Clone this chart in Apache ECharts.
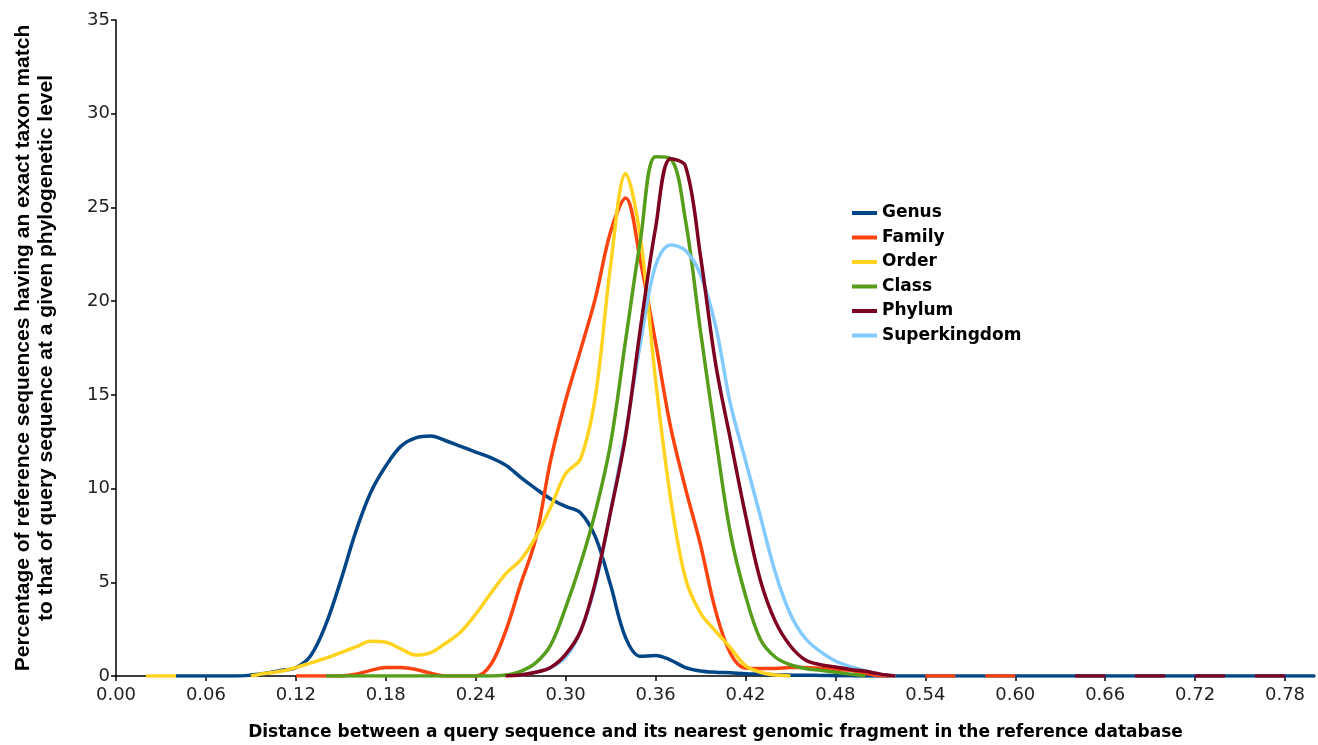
<!DOCTYPE html>
<html>
<head>
<meta charset="utf-8">
<script src="https://cdn.jsdelivr.net/npm/echarts@6/dist/echarts.min.js"></script>
<style>
  html, body { margin: 0; padding: 0; background: #fff; }
  #chart { width: 1318px; height: 745px; }
</style>
</head>
<body>
<div id="chart"></div>
<script>
// distance categories, 0.00 .. 0.80 in steps of 0.01
const distances = [
  '0.00','0.01','0.02','0.03','0.04','0.05','0.06','0.07','0.08','0.09',
  '0.10','0.11','0.12','0.13','0.14','0.15','0.16','0.17','0.18','0.19',
  '0.20','0.21','0.22','0.23','0.24','0.25','0.26','0.27','0.28','0.29',
  '0.30','0.31','0.32','0.33','0.34','0.35','0.36','0.37','0.38','0.39',
  '0.40','0.41','0.42','0.43','0.44','0.45','0.46','0.47','0.48','0.49',
  '0.50','0.51','0.52','0.53','0.54','0.55','0.56','0.57','0.58','0.59',
  '0.60','0.61','0.62','0.63','0.64','0.65','0.66','0.67','0.68','0.69',
  '0.70','0.71','0.72','0.73','0.74','0.75','0.76','0.77','0.78','0.79',
  '0.80'
]

// percentage values, one per distance (null = not drawn)
const genus = [
  null, null, null, null, 0, 0, 0, 0, 0, 0.05,
  0.15, 0.3, 0.45, 1.1, 2.75, 5.1, 7.7, 9.8, 11.2, 12.25,
  12.7, 12.8, 12.55, 12.25, 11.95, 11.65, 11.25, 10.6, 10.0, 9.45,
  9.05, 8.7, 7.4, 4.85, 2.05, 1.05, 1.1, 0.85, 0.45, 0.27,
  0.2, 0.17, 0.12, 0.1, 0.07, 0.05, 0.04, 0.03, 0.02, 0.01,
  0, 0, 0, 0, 0, 0, 0, 0, 0, 0,
  0, 0, 0, 0, 0, 0, 0, 0, 0, 0,
  0, 0, 0, 0, 0, 0, 0, 0, 0, 0,
  0
]
const family = [
  null, null, null, null, null, null, null, null, null, null,
  null, null, 0, 0, 0, 0, 0.1, 0.3, 0.45, 0.45,
  0.35, 0.15, 0, 0, 0, 0.6, 2.4, 4.9, 7.3, 11.5,
  14.7, 17.4, 20.2, 23.7, 25.5, 22.1, 17.8, 13.3, 10.0, 7.0,
  3.5, 1.2, 0.42, 0.4, 0.4, 0.45, 0.45, 0.4, 0.35, 0.3,
  0.15, 0, 0, null, 0, 0, 0, null, 0, 0,
  0, null, null, null, null, null, null, null, null, null,
  null, null, null, null, null, null, null, null, null, null,
  null
]
const order = [
  null, null, 0, 0, 0, null, null, null, null, 0,
  0.15, 0.25, 0.45, 0.7, 0.95, 1.25, 1.55, 1.85, 1.8, 1.45,
  1.12, 1.25, 1.75, 2.35, 3.3, 4.4, 5.45, 6.2, 7.4, 9.0,
  10.8, 11.6, 15.0, 21.9, 26.8, 23.3, 15.8, 9.5, 5.2, 3.35,
  2.4, 1.5, 0.55, 0.2, 0.05, 0, null, null, null, null,
  null, null, null, null, null, null, null, null, null, null,
  null, null, null, null, null, null, null, null, null, null,
  null, null, null, null, null, null, null, null, null, null,
  null
]
const klass = [
  null, null, null, null, null, null, null, null, null, null,
  null, null, null, null, 0, 0, 0, 0, 0, 0,
  0, 0, 0, 0, 0, 0, 0.05, 0.25, 0.7, 1.65,
  3.65, 6.0, 8.8, 12.4, 17.9, 23.3, 27.7, 27.6, 24.3, 18.4,
  12.8, 7.6, 4.3, 1.95, 1.0, 0.6, 0.4, 0.3, 0.2, 0.1,
  0, null, null, null, null, null, null, null, null, null,
  null, null, null, null, null, null, null, null, null, null,
  null, null, null, null, null, null, null, null, null, null,
  null
]
const phylum = [
  null, null, null, null, null, null, null, null, null, null,
  null, null, null, null, null, null, null, null, null, null,
  null, null, null, null, null, null, 0, 0.05, 0.2, 0.45,
  1.15, 2.4, 5.05, 8.75, 12.8, 18.6, 23.9, 27.6, 27.2, 22.4,
  16.7, 12.6, 8.6, 5.1, 2.9, 1.6, 0.85, 0.6, 0.48, 0.35,
  0.25, 0.1, 0, null, null, null, null, null, null, null,
  null, null, null, null, 0, 0, 0, null, 0, 0,
  0, null, 0, 0, 0, null, 0, 0, 0, null,
  null
]
const superkingdom = [
  null, null, null, null, null, null, null, null, null, null,
  null, null, null, null, null, null, null, null, null, null,
  null, null, null, null, null, null, null, 0.05, 0.2, 0.45,
  1.0, 2.4, 4.9, 8.8, 13.0, 17.8, 21.9, 23.0, 22.7, 21.4,
  18.7, 14.5, 11.5, 8.5, 5.5, 3.3, 2.0, 1.3, 0.8, 0.5,
  0.28, 0.1, 0, null, null, null, null, null, null, null,
  null, null, null, null, null, null, null, null, null, null,
  null, null, null, null, null, null, null, null, null, null,
  null
]

const seriesList = [
  { name: 'Genus', data: genus, color: '#004586', z: 2 },
  { name: 'Family', data: family, color: '#ff420e', z: 2 },
  { name: 'Order', data: order, color: '#ffd320', z: 2 },
  { name: 'Class', data: klass, color: '#579d1c', z: 2 },
  { name: 'Phylum', data: phylum, color: '#7e0021', z: 3 },
  { name: 'Superkingdom', data: superkingdom, color: '#83caff', z: 2 },
]

const chart = echarts.init(document.getElementById('chart'))

const tickFont = { fontFamily: 'DejaVu Sans', fontSize: 18, color: '#222' }

chart.setOption({
  animation: false,
  backgroundColor: '#fff',
  grid: { left: 116, right: 3, top: 20, bottom: 69, containLabel: false, outerBoundsMode: 'none' },
  legend: {
    orient: 'vertical',
    left: 847,
    top: 198,
    icon: 'rect',
    itemWidth: 25,
    itemHeight: 4,
    itemGap: 4.5,
    textStyle: { fontFamily: 'DejaVu Sans', fontWeight: 'bold', fontSize: 17, color: '#000', lineHeight: 20 },
    data: seriesList.map(s => s.name),
  },
  xAxis: {
    type: 'category',
    data: distances,
    boundaryGap: false,
    name: 'Distance between a query sequence and its nearest genomic fragment in the reference database',
    nameLocation: 'middle',
    nameGap: 48,
    nameTextStyle: { fontFamily: 'DejaVu Sans', fontWeight: 'bold', fontSize: 17, color: '#000' },
    axisLine: { lineStyle: { color: '#000', width: 1.5 } },
    axisTick: { interval: 5, length: 5, lineStyle: { color: '#000', width: 1.5 } },
    axisLabel: { interval: 5, margin: 10, ...tickFont },
    splitLine: { show: false },
  },
  yAxis: {
    type: 'value',
    min: 0,
    max: 35,
    interval: 5,
    name: 'Percentage of reference sequences having an exact taxon match\nto that of query sequence at a given phylogenetic level',
    nameLocation: 'middle',
    nameRotate: 90,
    nameGap: 58,
    nameTextStyle: {
      fontFamily: 'Liberation Sans',
      fontWeight: 'bold', fontSize: 21, lineHeight: 23, color: '#000', align: 'center',
    },
    axisLine: { show: true, lineStyle: { color: '#000', width: 1.5 } },
    axisTick: { show: true, length: 5, lineStyle: { color: '#000', width: 1.5 } },
    axisLabel: { margin: 6, ...tickFont },
    splitLine: { show: false },
  },
  series: seriesList.map(s => ({
    name: s.name,
    type: 'line',
    data: s.data,
    z: s.z,
    smooth: 0.35,
    showSymbol: false,
    connectNulls: false,
    color: s.color,
    lineStyle: { color: s.color, width: 3.5 },
    emphasis: { disabled: true },
  })),
})
</script>
</body>
</html>
